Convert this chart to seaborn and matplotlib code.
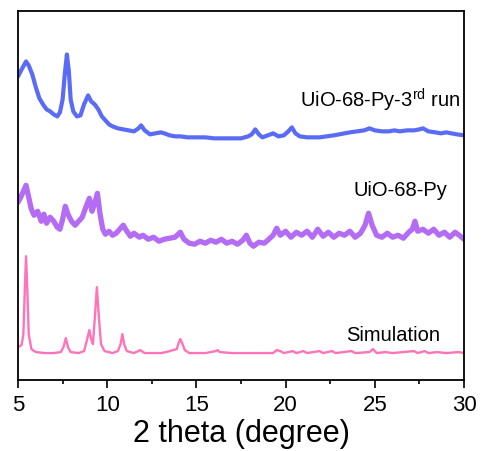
import pandas as pd
import matplotlib
matplotlib.use("Agg")
import matplotlib.pyplot as plt
from matplotlib.ticker import MultipleLocator
import seaborn as sns

# PXRD patterns, intensity in arbitrary units (already stacked)
run3_x = [5.0, 5.2, 5.45, 5.6, 5.8, 6.0, 6.2, 6.4, 6.6, 6.8, 7.0, 7.2, 7.35, 7.5, 7.62, 7.74,
          7.85, 7.95, 8.1, 8.3, 8.5, 8.7, 8.93, 9.1, 9.3, 9.5, 9.7, 9.9, 10.1, 10.3, 10.6, 10.9,
          11.2, 11.5, 11.75, 11.9, 12.1, 12.4, 12.7, 13.0, 13.2, 13.5, 13.8, 14.1, 14.5, 15.0,
          15.5, 16.0, 16.5, 17.0, 17.5, 17.9, 18.1, 18.3, 18.5, 18.7, 19.0, 19.3, 19.6, 19.9,
          20.15, 20.35, 20.55, 20.8, 21.2, 21.6, 21.9, 22.3, 22.7, 23.0, 23.3, 23.6, 24.0, 24.4,
          24.7, 25.0, 25.4, 25.8, 26.1, 26.4, 26.8, 27.2, 27.5, 27.7, 28.0, 28.4, 28.7, 29.0,
          29.3, 29.6, 30.0]
run3_y = [304, 311, 319, 315, 306, 293, 282, 276, 271, 269, 266, 264, 268, 281, 306, 326,
          309, 281, 269, 264, 265, 276, 285, 279, 276, 271, 264, 260, 256, 254, 252, 251,
          250, 249, 252, 255, 250, 246, 247, 248, 247, 245, 244, 244, 243, 243,
          243, 242, 242, 242, 242, 244, 246, 251, 246, 243, 245, 247, 244, 245,
          249, 253, 247, 244, 243, 243, 243, 244, 245, 246, 247, 248, 249, 250,
          252, 250, 249, 249, 250, 249, 250, 250, 251, 252, 249, 248, 247, 248,
          247, 246, 245]

py_x = [5.0, 5.15, 5.3, 5.45, 5.6, 5.75, 5.9, 6.1, 6.3, 6.45, 6.6, 6.8, 7.0, 7.2, 7.35, 7.5,
        7.65, 7.8, 8.0, 8.2, 8.4, 8.6, 8.8, 9.0, 9.15, 9.3, 9.45, 9.6, 9.75, 9.9, 10.1, 10.3,
        10.5, 10.7, 10.9, 11.1, 11.3, 11.5, 11.8, 12.0, 12.3, 12.6, 12.9, 13.2, 13.5, 13.8,
        14.1, 14.3, 14.6, 14.9, 15.2, 15.5, 15.8, 16.1, 16.4, 16.7, 17.0, 17.3, 17.6, 17.8,
        18.0, 18.2, 18.5, 18.8, 19.0, 19.3, 19.5, 19.7, 20.0, 20.3, 20.6, 20.9, 21.2, 21.5,
        21.8, 22.1, 22.4, 22.7, 23.0, 23.3, 23.6, 23.9, 24.2, 24.45, 24.65, 24.85, 25.1, 25.4,
        25.7, 26.0, 26.3, 26.6, 26.9, 27.1, 27.25, 27.4, 27.7, 28.0, 28.3, 28.6, 28.9, 29.2,
        29.5, 29.8, 30.0]
py_y = [178, 183, 189, 195, 183, 171, 165, 169, 159, 166, 157, 163, 159, 153, 151, 161,
        174, 166, 159, 155, 159, 163, 173, 182, 169, 177, 187, 166, 151, 146, 149, 145,
        147, 151, 155, 149, 144, 147, 143, 145, 141, 143, 139, 141, 142, 143,
        148, 141, 137, 136, 139, 137, 140, 138, 141, 137, 139, 136, 140, 145,
        137, 134, 138, 137, 140, 145, 152, 145, 149, 143, 148, 145, 149, 143,
        151, 144, 148, 143, 147, 145, 149, 143, 147, 155, 167, 155, 145, 143,
        147, 143, 145, 142, 148, 151, 159, 149, 151, 147, 151, 145, 148, 143,
        148, 144, 141]

sim_x = [5.0, 5.2, 5.3, 5.38, 5.45, 5.52, 5.6, 5.75, 6.0, 6.5, 7.0, 7.4, 7.55, 7.68, 7.8, 7.95,
         8.4, 8.7, 8.85, 9.0, 9.1, 9.2, 9.32, 9.42, 9.52, 9.65, 9.85, 10.3, 10.6, 10.75, 10.85,
         10.95, 11.1, 11.5, 11.85, 12.1, 13.0, 13.3, 13.9, 14.0, 14.1, 14.2, 14.35, 14.6, 15.5,
         16.1, 16.2, 16.3, 17.0, 18.0, 19.3, 19.5, 19.7, 19.9, 20.4, 20.6, 21.0, 21.2, 21.9,
         22.1, 22.6, 22.8, 23.7, 23.9, 24.7, 24.9, 25.1, 25.6, 26.0, 27.2, 27.4, 27.8, 28.0,
         28.5, 29.0, 29.7, 30.0]
sim_y = [33, 35, 46, 91, 124, 91, 46, 31, 28, 27, 27, 28, 33, 42, 33, 28,
         27, 29, 39, 50, 41, 36, 66, 93, 66, 36, 29, 27, 29, 36, 46,
         36, 29, 27, 30, 27, 27, 28, 31, 37, 41, 37, 30, 27, 27,
         29, 30, 28, 27, 27, 27, 30, 29, 27, 29, 27, 29, 27, 29,
         27, 29, 27, 29, 27, 28, 31, 27, 28, 27, 29, 27, 29, 27,
         28, 27, 28, 27]

names = ["UiO-68-Py-3$^{rd}$ run", "UiO-68-Py", "Simulation"]
colors = ["#5a6cf6", "#b46cf5", "#ff73b9"]
widths = [3.0, 3.8, 1.7]

frames = []
for name, xs, ys in zip(names, [run3_x, py_x, sim_x], [run3_y, py_y, sim_y]):
    frames.append(pd.DataFrame({"two_theta": xs, "intensity": ys, "sample": name}))
df = pd.concat(frames, ignore_index=True)

sns.set_theme(style="ticks")
plt.rcParams["font.family"] = ["Liberation Sans", "DejaVu Sans"]
plt.rcParams["mathtext.default"] = "regular"
plt.rcParams["text.color"] = "black"
plt.rcParams["axes.labelcolor"] = "black"
plt.rcParams["xtick.color"] = "black"

fig = plt.figure(figsize=(4.83, 4.52), dpi=100)
ax = fig.add_axes([0.0373, 0.157, 0.9234, 0.8175])

for name, color, lw in zip(names, colors, widths):
    sns.lineplot(data=df[df["sample"] == name], x="two_theta", y="intensity",
                 color=color, linewidth=lw, sort=False, estimator=None, ax=ax)

ax.set_xlim(5, 30)
ax.set_ylim(0, 370)
ax.xaxis.set_major_locator(MultipleLocator(5))
ax.xaxis.set_minor_locator(MultipleLocator(2.5))
ax.set_yticks([])
ax.set_ylabel("")
ax.set_xlabel("2 theta (degree)", fontsize=22, labelpad=2, color="black")
ax.tick_params(axis="x", which="major", direction="out", length=6, width=1.2,
               labelsize=16, pad=4, colors="black", labelcolor="black")
ax.tick_params(axis="x", which="minor", direction="out", length=3, width=1.2, colors="black")
for sp in ax.spines.values():
    sp.set_visible(True)
    sp.set_color("black")
    sp.set_linewidth(1.3)

label_pos = [(29.78, 281), (29.05, 191), (28.65, 46)]
for name, (tx, ty) in zip(names, label_pos):
    ax.text(tx, ty, name, fontsize=14.5, ha="right", va="center", color="black")

fig.savefig("out.png", dpi=100)
